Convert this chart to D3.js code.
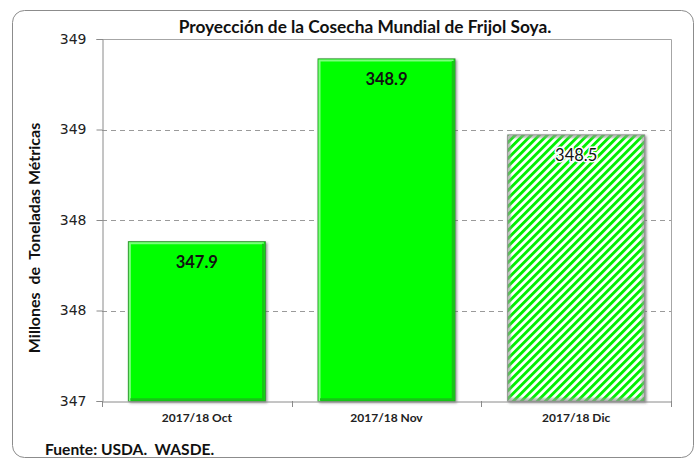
<!DOCTYPE html>
<html>
<head>
<meta charset="utf-8">
<script src="https://cdn.jsdelivr.net/npm/d3@7"></script>
<style>
  body { margin: 0; background: #fff; }
  svg { display: block; }
</style>
</head>
<body>
<svg id="chart"></svg>
<script>
// data
var categories = ["2017/18 Oct", "2017/18 Nov", "2017/18 Dic"];
var values = [347.88, 348.89, 348.47];
var valueLabels = ["347.9", "348.9", "348.5"];
var yTicks = [347, 347.5, 348, 348.5, 349];
var titleText = "Proyección de la Cosecha Mundial de Frijol Soya.";
var yTitleText = "Millones  de  Toneladas Métricas";
var sourceText = "Fuente: USDA.  WASDE.";

var W = 699, H = 459;
var plot = { left: 102, right: 671, top: 39, bottom: 401 };

var svg = d3.select("#chart").attr("width", W).attr("height", H);

var defs = svg.append("defs");
var hatch = defs.append("pattern")
  .attr("id", "hatch")
  .attr("patternUnits", "userSpaceOnUse")
  .attr("width", 5.66).attr("height", 5.66)
  .attr("patternTransform", "rotate(45)");
hatch.append("rect").attr("width", 5.66).attr("height", 5.66).attr("fill", "#fff");
hatch.append("rect").attr("x", 0).attr("width", 2.9).attr("height", 5.66).attr("fill", "#00f000");

var shadow = defs.append("filter").attr("id", "shadow")
  .attr("x", "-10%").attr("y", "-10%").attr("width", "130%").attr("height", "130%");
shadow.append("feDropShadow")
  .attr("dx", 1.5).attr("dy", 1.5).attr("stdDeviation", 1.2)
  .attr("flood-color", "#555").attr("flood-opacity", 0.6);

var soft = defs.append("filter").attr("id", "soft");
soft.append("feGaussianBlur").attr("stdDeviation", 0.8);

// outer frame
svg.append("rect")
  .attr("x", 12.5).attr("y", 10.5)
  .attr("width", 681).attr("height", 447)
  .attr("rx", 12).attr("ry", 12)
  .attr("fill", "#fff")
  .attr("stroke", "#8c8c8c").attr("stroke-width", 1);

// scales
var x = d3.scaleBand()
  .domain(categories)
  .range([plot.left, plot.right])
  .paddingInner(0.278)
  .paddingOuter(0.139);

var y = d3.scaleLinear()
  .domain([347, 349])
  .range([plot.bottom, plot.top]);

// grid lines
svg.append("g")
  .selectAll("line")
  .data(yTicks.filter(function (d) { return d > 347 && d < 349; }))
  .enter().append("line")
  .attr("x1", plot.left).attr("x2", plot.right)
  .attr("y1", function (d) { return Math.round(y(d)) + 0.5; })
  .attr("y2", function (d) { return Math.round(y(d)) + 0.5; })
  .attr("stroke", "#9a9a9a")
  .attr("stroke-dasharray", "5,4");

// plot area border (top / right)
svg.append("path")
  .attr("d", "M" + (plot.left + 0.5) + "," + (plot.top + 0.5) +
    "H" + (plot.right + 0.5) + "V" + (plot.bottom + 0.5))
  .attr("fill", "none")
  .attr("stroke", "#a6a6a6");

// bars
var bars = svg.append("g");
bars.selectAll("rect.bar")
  .data(values)
  .enter().append("rect")
  .attr("class", "bar")
  .attr("x", function (d, i) { return x(categories[i]); })
  .attr("y", function (d) { return y(d); })
  .attr("width", x.bandwidth())
  .attr("height", function (d) { return y(347) - y(d); })
  .attr("fill", function (d, i) { return i === 2 ? "url(#hatch)" : "#00ff00"; })
  .attr("stroke", function (d, i) { return i === 2 ? "#8a8a8a" : "#2e8f2e"; })
  .attr("stroke-width", 1)
  .attr("filter", "url(#shadow)");

// soft grey inner edge on the hatched bar
bars.append("rect")
  .attr("x", x(categories[2]) + 1.5)
  .attr("y", y(values[2]) + 1.5)
  .attr("width", x.bandwidth() - 3)
  .attr("height", y(347) - y(values[2]) - 3)
  .attr("fill", "none")
  .attr("stroke", "#9a9a9a")
  .attr("stroke-width", 2)
  .attr("filter", "url(#soft)");

// bevel highlight on solid bars
bars.selectAll("path.bevel")
  .data(values.slice(0, 2))
  .enter().append("path")
  .attr("class", "bevel")
  .attr("d", function (d, i) {
    var x0 = x(categories[i]) + 1.5, x1 = x(categories[i]) + x.bandwidth() - 1.5;
    var y0 = y(d) + 1.5;
    return "M" + x0 + "," + y(347) + "V" + y0 + "H" + x1;
  })
  .attr("fill", "none")
  .attr("stroke", "#7dff7d")
  .attr("stroke-width", 2);

bars.selectAll("path.dark")
  .data(values.slice(0, 2))
  .enter().append("path")
  .attr("class", "dark")
  .attr("d", function (d, i) {
    var x1 = x(categories[i]) + x.bandwidth() - 2;
    return "M" + x1 + "," + (y(d) + 2) + "V" + (y(347) - 1.5) + "H" + (x(categories[i]) + 2);
  })
  .attr("fill", "none")
  .attr("stroke", "#16c516")
  .attr("stroke-width", 2.5);

// value labels
svg.append("g")
  .selectAll("text")
  .data(values)
  .enter().append("text")
  .attr("x", function (d, i) { return x(categories[i]) + x.bandwidth() / 2; })
  .attr("y", function (d) { return y(d) + 26; })
  .attr("text-anchor", "middle")
  .attr("font-family", "Lato, 'Open Sans', sans-serif")
  .attr("font-size", 16.5)
  .attr("font-weight", function (d, i) { return i === 2 ? "normal" : "bold"; })
  .attr("fill", "#111")
  .attr("stroke", function (d, i) { return i === 2 ? "#fff" : "none"; })
  .attr("stroke-width", 3)
  .attr("paint-order", "stroke")
  .text(function (d, i) { return valueLabels[i]; });

// y axis
var yAxis = svg.append("g")
  .attr("transform", "translate(" + (plot.left + 0.5) + ",0)")
  .call(d3.axisLeft(y)
    .tickValues(yTicks)
    .tickSize(6)
    .tickPadding(10)
    .tickFormat(d3.format(".0f")));
yAxis.select(".domain").attr("stroke", "#8a8a8a");
yAxis.selectAll(".tick line").attr("stroke", "#8a8a8a");
yAxis.selectAll(".tick text")
  .attr("font-family", "'DejaVu Sans', sans-serif")
  .attr("font-size", 14)
  .attr("fill", "#222");

// x axis
var xAxis = svg.append("g")
  .attr("transform", "translate(0," + (plot.bottom + 0.5) + ")")
  .call(d3.axisBottom(x).tickSize(0).tickPadding(12));
xAxis.select(".domain").attr("stroke", "#8a8a8a");
xAxis.selectAll(".tick text")
  .attr("font-family", "Lato, sans-serif")
  .attr("font-size", 12)
  .attr("font-weight", "bold")
  .attr("fill", "#222");

// category separators on x axis
var step = x.step();
svg.append("g")
  .selectAll("line")
  .data(d3.range(categories.length + 1))
  .enter().append("line")
  .attr("x1", function (i) { return Math.round(plot.left + i * step) + 0.5; })
  .attr("x2", function (i) { return Math.round(plot.left + i * step) + 0.5; })
  .attr("y1", plot.bottom).attr("y2", plot.bottom + 6)
  .attr("stroke", "#8a8a8a");

// title
svg.append("text")
  .attr("x", 365).attr("y", 33)
  .attr("text-anchor", "middle")
  .attr("font-family", "Lato, sans-serif")
  .attr("font-size", 17.3)
  .attr("font-weight", "bold")
  .attr("fill", "#111")
  .text(titleText);

// y title
svg.append("text")
  .attr("transform", "translate(40,238) rotate(-90)")
  .attr("text-anchor", "middle")
  .attr("font-family", "Lato, sans-serif")
  .attr("font-size", 16)
  .attr("font-weight", "bold")
  .attr("fill", "#111")
  .style("white-space", "pre")
  .text(yTitleText);

// source
svg.append("text")
  .attr("x", 45).attr("y", 455)
  .attr("font-family", "Lato, sans-serif")
  .attr("font-size", 15.6)
  .attr("font-weight", "bold")
  .attr("fill", "#111")
  .style("white-space", "pre")
  .text(sourceText);
</script>
</body>
</html>
